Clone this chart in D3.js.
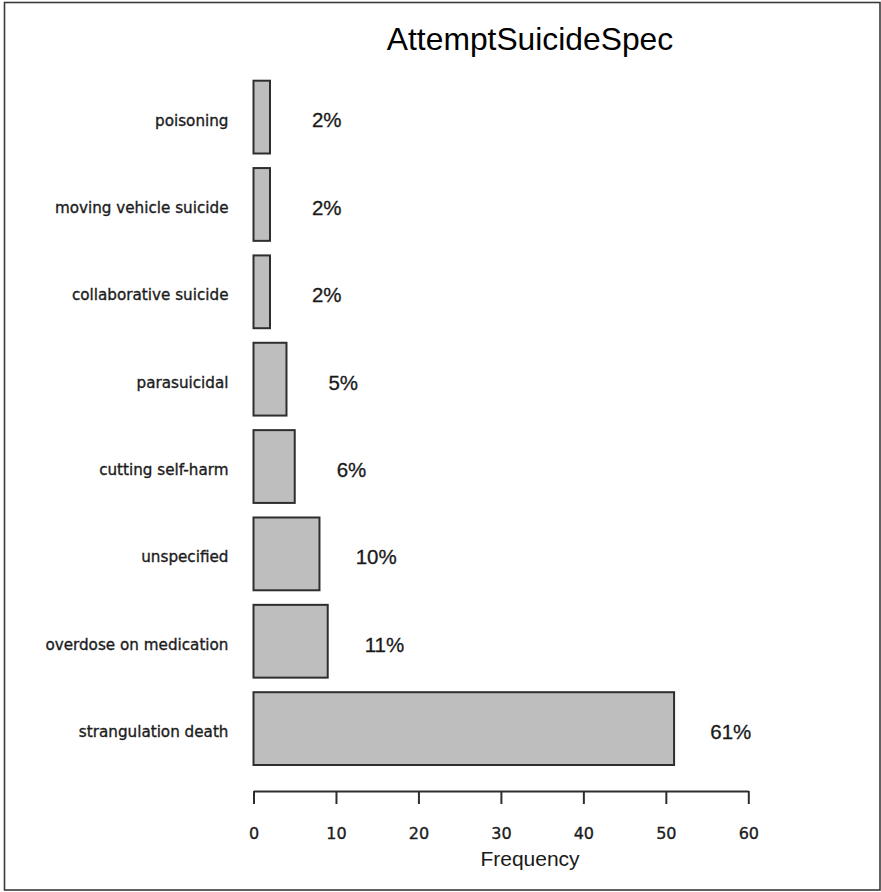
<!DOCTYPE html>
<html>
<head>
<meta charset="utf-8">
<script src="https://cdn.jsdelivr.net/npm/d3@7"></script>
<style>
  html, body { margin: 0; padding: 0; background: #ffffff; }
  svg { display: block; }
</style>
</head>
<body>
<svg id="chart" width="881" height="892"></svg>
<script>
// Attempted suicide methods, bottom bar first (as in a horizontal barplot)
const categories = [
  "strangulation death",
  "overdose on medication",
  "unspecified",
  "cutting self-harm",
  "parasuicidal",
  "collaborative suicide",
  "moving vehicle suicide",
  "poisoning"
];
const counts = [51, 9, 8, 5, 4, 2, 2, 2];
const percentLabels = ["61%", "11%", "10%", "6%", "5%", "2%", "2%", "2%"];
const xTicks = [0, 10, 20, 30, 40, 50, 60];
const chartTitle = "AttemptSuicideSpec";
const xTitle = "Frequency";

const svg = d3.select("#chart");
const W = 881;

// outer frame
svg.append("rect")
  .attr("x", 4.5).attr("y", 2.5)
  .attr("width", W - 1 - 4.5).attr("height", 890 - 2.5)
  .attr("fill", "none").attr("stroke", "#3a3a3a").attr("stroke-width", 1.6);

const x = d3.scaleLinear().domain([0, 60]).range([253.5, 748.3]);

// top-to-bottom order for the band scale
const y = d3.scaleBand()
  .domain(categories.slice().reverse())
  .range([80.7, 765])
  .paddingInner(0.2 / 1.2)
  .paddingOuter(0);

const rows = categories.map((c, i) => ({ cat: c, n: counts[i], pct: percentLabels[i] }));
const labelY = d => y(d.cat) + y.bandwidth() / 2 + 3;

// bars
svg.append("g").selectAll("rect")
  .data(rows)
  .join("rect")
  .attr("x", x(0))
  .attr("y", d => y(d.cat))
  .attr("width", d => x(d.n) - x(0))
  .attr("height", y.bandwidth())
  .attr("fill", "#bebebe")
  .attr("stroke", "#2e2e2e")
  .attr("stroke-width", 2);

// percentage labels to the right of each bar
svg.append("g").selectAll("text")
  .data(rows)
  .join("text")
  .attr("x", d => x(d.n + 7) - 1)
  .attr("y", labelY)
  .attr("dy", "0.36em")
  .attr("text-anchor", "middle")
  .attr("font-family", "'Liberation Sans', Arial, sans-serif")
  .attr("font-size", 20.5)
  .attr("fill", "#1a1a1a")
  .attr("stroke", "#1a1a1a")
  .attr("stroke-width", 0.3)
  .text(d => d.pct);

// category labels
svg.append("g").selectAll("text")
  .data(rows)
  .join("text")
  .attr("x", 228.5)
  .attr("y", labelY)
  .attr("dy", "0.36em")
  .attr("text-anchor", "end")
  .attr("font-family", "'DejaVu Sans', Verdana, sans-serif")
  .attr("font-size", 15.2)
  .attr("fill", "#1c1c1c")
  .attr("stroke", "#1c1c1c")
  .attr("stroke-width", 0.35)
  .text(d => d.cat);

// x axis
const axis = d3.axisBottom(x)
  .tickValues(xTicks)
  .tickFormat(d3.format("d"))
  .tickSize(13)
  .tickSizeOuter(0)
  .tickPadding(24);

const gx = svg.append("g")
  .attr("transform", "translate(0,791)")
  .call(axis);
gx.select(".domain").attr("stroke", "#2e2e2e").attr("stroke-width", 2);
gx.selectAll(".tick line").attr("stroke", "#2e2e2e").attr("stroke-width", 2);
gx.selectAll(".tick text")
  .attr("font-family", "'DejaVu Sans', Verdana, sans-serif")
  .attr("font-size", 16)
  .attr("fill", "#1c1c1c")
  .attr("stroke", "#1c1c1c")
  .attr("stroke-width", 0.35);

// axis title
svg.append("text")
  .attr("x", 530)
  .attr("y", 866)
  .attr("text-anchor", "middle")
  .attr("font-family", "'Liberation Sans', Arial, sans-serif")
  .attr("font-size", 21)
  .attr("fill", "#1a1a1a")
  .text(xTitle);

// chart title
svg.append("text")
  .attr("x", 530)
  .attr("y", 49.5)
  .attr("text-anchor", "middle")
  .attr("font-family", "'Liberation Sans', Arial, sans-serif")
  .attr("font-size", 31.8)
  .attr("fill", "#000")
  .text(chartTitle);
</script>
</body>
</html>
